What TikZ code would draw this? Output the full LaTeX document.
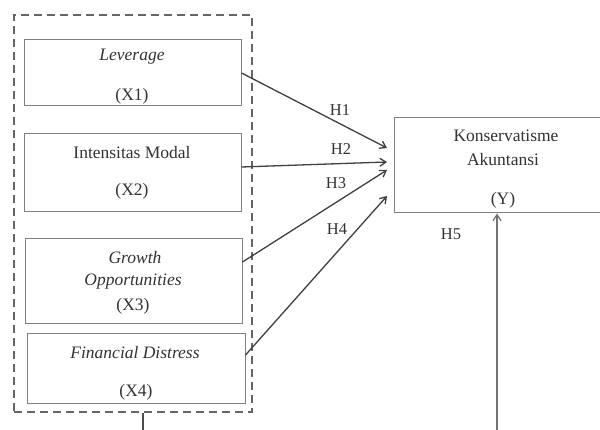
\documentclass[tikz,border=0pt]{standalone}
\usepackage{fontspec}
\setmainfont{Liberation Serif}
\usetikzlibrary{arrows.meta}
\begin{document}
\begin{tikzpicture}[x=1pt,y=-1pt,
  varbox/.style={draw=black!50,line width=1pt,fill=white,inner sep=0pt},
  txt/.style={font=\fontsize{17.5}{20}\selectfont,text=black!80,inner sep=0pt},
  hlab/.style={font=\fontsize{16.5}{19}\selectfont,text=black!80,inner sep=0pt},
  conn/.style={draw=black!75,line width=1.3pt,-{Straight Barb[length=6pt,width=8pt,line width=1.3pt]}},
  plain/.style={draw=black!70,line width=1.3pt},
  groupbox/.style={draw=black!60,line width=1.8pt,dash pattern=on 8pt off 5pt,inner sep=0pt}]
\clip (0,0) rectangle (600,430);
\fill[white] (0,0) rectangle (600,430);
% group
\node[groupbox,minimum width=238pt,minimum height=397pt] (grp) at (133,213.5) {};
% boxes
\node[varbox,minimum width=217pt,minimum height=66pt] (x1) at (132.5,73) {};
\node[varbox,minimum width=217pt,minimum height=78pt] (x2) at (132.5,173) {};
\node[varbox,minimum width=217pt,minimum height=85pt] (x3) at (133.5,281.5) {};
\node[varbox,minimum width=218pt,minimum height=69pt] (x4) at (136,368.5) {};
\node[varbox,minimum width=230pt,minimum height=95pt] (y) at (509,165.5) {};
% texts
\node[txt] (t1a) at (132,57) {\itshape Leverage};
\node[txt] (t1b) at (132,96) {(X1)};
\node[txt] (t2a) at (132,153) {Intensitas Modal};
\node[txt] (t2b) at (132,191) {(X2)};
\node[txt] (t3a) at (135,258) {\itshape Growth};
\node[txt] (t3b) at (133,282) {\itshape Opportunities};
\node[txt] (t3c) at (133,306) {(X3)};
\node[txt] (t4a) at (135,353) {\itshape Financial Distress};
\node[txt] (t4b) at (136,392) {(X4)};
\node[txt] (tya) at (506,136) {Konservatisme};
\node[txt] (tyb) at (503,160) {Akuntansi};
\node[txt] (tyc) at (503,200) {(Y)};
% hypothesis labels
\node[hlab] (h1) at (340,110) {H1};
\node[hlab] (h2) at (341,149) {H2};
\node[hlab] (h3) at (336,183) {H3};
\node[hlab] (h4) at (337,229) {H4};
\node[hlab] (h5) at (451,234) {H5};
% connector end points
\coordinate (e1) at (387,148);
\coordinate (e2) at (387,162);
\coordinate (e3) at (387,170);
\coordinate (e4) at (387,196);
\coordinate (s1) at (x1.east |- 0,73);
\coordinate (s2) at (x2.east |- 0,167);
\coordinate (s3) at (x3.east |- 0,262);
\coordinate (s4) at (x4.east |- 0,355);
\coordinate (b1) at (143,440);
\coordinate (b2) at (497,440);
\draw[conn] (s1) -- (e1);
\draw[conn] (s2) -- (e2);
\draw[conn] (s3) -- (e3);
\draw[conn] (s4) -- (e4);
\draw[plain] (grp.south -| b1) -- (b1);
\draw[conn,draw=black!55] (b2) -- (y.south -| b2);
\end{tikzpicture}
\end{document}
